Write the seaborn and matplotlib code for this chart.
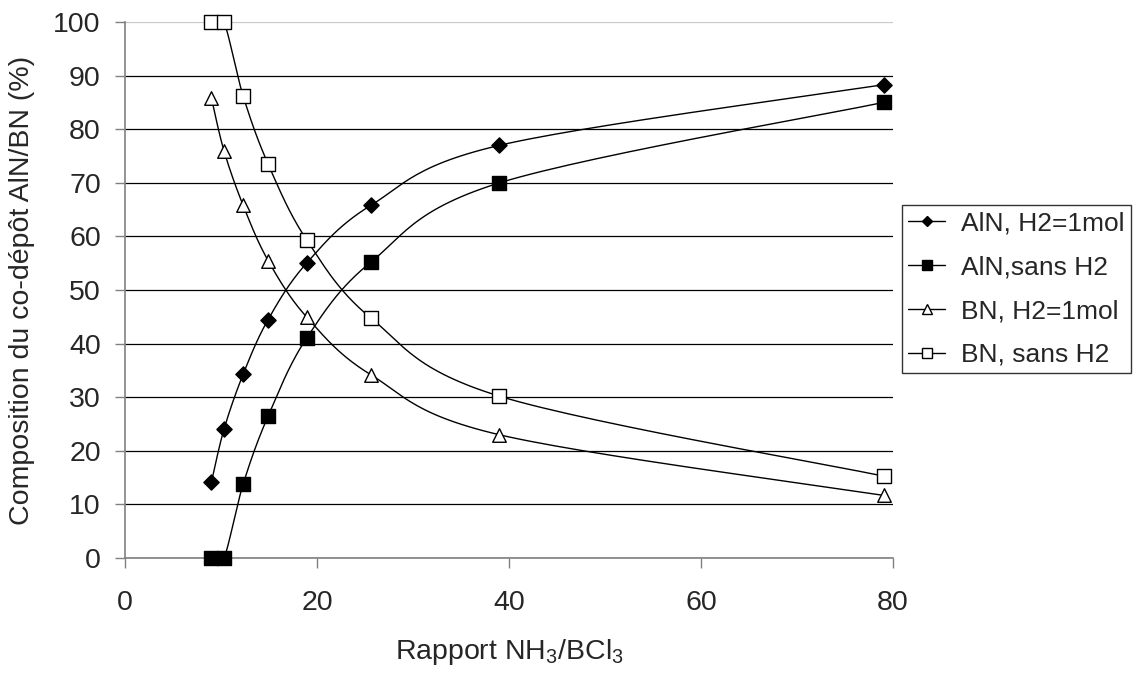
import numpy as np
import pandas as pd
import matplotlib
matplotlib.use("Agg")
import matplotlib.pyplot as plt
from matplotlib.lines import Line2D
import seaborn as sns

# ---------------------------------------------------------------- data
ratio = [9.0, 10.3, 12.3, 14.9, 18.9, 25.6, 39.0, 79.0]
aln_h2 = [14.2, 24.0, 34.3, 44.5, 55.0, 65.8, 77.0, 88.3]
aln_sans = [0.0, 0.0, 13.8, 26.5, 41.0, 55.2, 70.0, 85.0]
bn_h2 = [85.8, 76.0, 65.8, 55.5, 45.0, 34.2, 23.0, 11.7]
bn_sans = [100.0, 100.0, 86.2, 73.5, 59.4, 44.8, 30.2, 15.3]

series = ["AlN, H2=1mol", "AlN,sans H2", "BN, H2=1mol", "BN, sans H2"]
values = [aln_h2, aln_sans, bn_h2, bn_sans]
markers = ["D", "s", "^", "s"]
faces = ["black", "black", "white", "white"]
msizes = [60, 95, 95, 95]

FS = 20.5      # axis texts
FS_LEG = 19    # legend


def smooth(x, y, sx=9.6, sy=5.36, n=30):
    """Excel-like smoothed line (Catmull-Rom Bezier in screen units)."""
    p = np.column_stack([np.asarray(x) * sx, np.asarray(y) * sy])
    p = np.vstack([p[0], p, p[-1]])
    t = np.linspace(0, 1, n)[:, None]
    out = []
    for i in range(1, len(p) - 2):
        p0, p3 = p[i], p[i + 1]
        c1 = p0 + (p[i + 1] - p[i - 1]) / 6
        c2 = p3 - (p[i + 2] - p[i]) / 6
        seg = ((1 - t) ** 3) * p0 + 3 * ((1 - t) ** 2) * t * c1 \
            + 3 * (1 - t) * t ** 2 * c2 + t ** 3 * p3
        out.append(seg if i == 1 else seg[1:])
    out = np.vstack(out)
    return out[:, 0] / sx, out[:, 1] / sy


pts = pd.DataFrame([
    {"serie": s, "ratio": r, "comp": v}
    for s, vals in zip(series, values) for r, v in zip(ratio, vals)
])
curves = []
for s, vals in zip(series, values):
    cx, cy = smooth(ratio, vals)
    curves.append(pd.DataFrame({"serie": s, "ratio": cx, "comp": cy}))
curves = pd.concat(curves, ignore_index=True)

# ---------------------------------------------------------------- plot
sns.set_style("white")
plt.rcParams["font.family"] = ["Liberation Sans", "DejaVu Sans"]
plt.rcParams["mathtext.fontset"] = "custom"
plt.rcParams["mathtext.rm"] = "Liberation Sans"

fig = plt.figure(figsize=(11.37, 6.74), dpi=100)
ax = fig.add_axes([0.110, 0.172, 0.6755, 0.7953])

sns.lineplot(data=curves, x="ratio", y="comp", units="serie", estimator=None,
             sort=False, color="black", lw=1.0, ax=ax, zorder=3)
for s, m, fc, ms in zip(series, markers, faces, msizes):
    sub = pts[pts["serie"] == s]
    sns.scatterplot(data=sub, x="ratio", y="comp", marker=m, s=ms,
                    color=fc, edgecolor="black", linewidth=1.0,
                    ax=ax, zorder=4, clip_on=False, legend=False)

ax.set_xlim(0, 80)
ax.set_ylim(0, 100)
ax.set_xticks(range(0, 81, 20))
ax.set_yticks(range(0, 101, 10))
ax.tick_params(axis="both", labelsize=FS, direction="out", length=7,
               width=1, color="#808080", left=True, bottom=True)
ax.tick_params(axis="y", pad=10.5)
ax.tick_params(axis="x", pad=16)
ax.yaxis.grid(True, color="black", lw=0.9)
ax.set_axisbelow(True)
ax.get_ygridlines()[-1].set_color("#c8c8c8")
for side in ["top", "right"]:
    ax.spines[side].set_visible(False)
for side in ["left", "bottom"]:
    ax.spines[side].set_color("#808080")
    ax.spines[side].set_linewidth(1.2)

ax.set_xlabel(r"Rapport NH$_3$/BCl$_3$", fontsize=FS, labelpad=15)
ax.set_ylabel("Composition du co-dépôt AlN/BN (%)", fontsize=FS, labelpad=13)

handles = [Line2D([], [], color="black", lw=1, marker=m, markersize=ms,
                  markerfacecolor=fc, markeredgecolor="black")
           for m, fc, ms in zip(markers, faces, [5.5, 6.5, 7, 6.5])]
leg = fig.legend(handles, series, loc="upper left",
                 bbox_to_anchor=(0.793, 0.696), fontsize=FS_LEG, frameon=True,
                 fancybox=False, edgecolor="black", handlelength=1.4,
                 handletextpad=0.6, borderpad=0.25, labelspacing=0.75,
                 borderaxespad=0)
leg.get_frame().set_linewidth(1.0)

fig.savefig("out.png", dpi=100)
